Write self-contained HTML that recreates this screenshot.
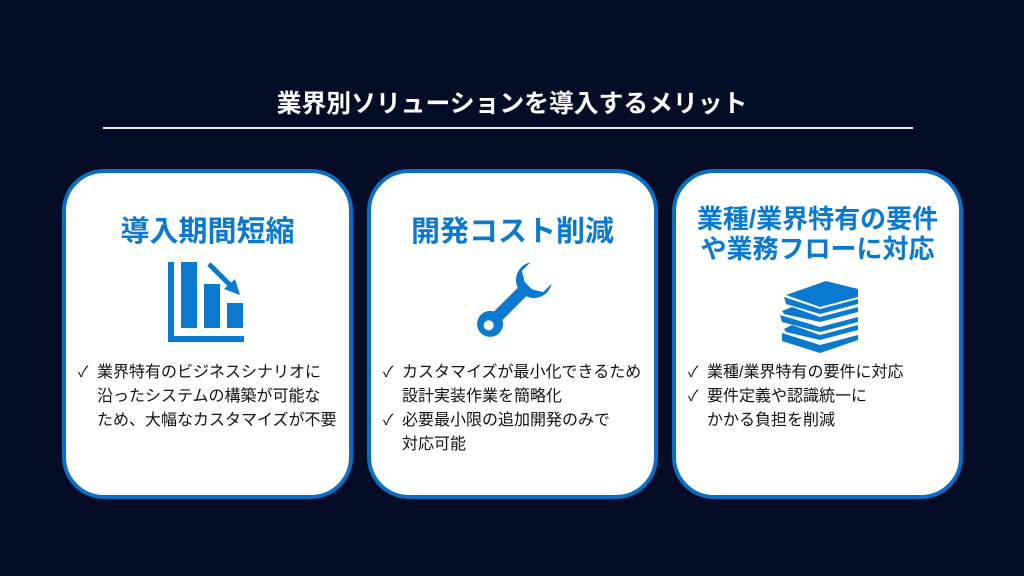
<!DOCTYPE html>
<html><head><meta charset="utf-8"><style>
*{margin:0;padding:0;box-sizing:border-box}
body{width:1024px;height:576px;background:#050d26;position:relative;overflow:hidden;font-family:"Liberation Sans","Noto Sans CJK JP",sans-serif}
.t{position:absolute;top:84px;left:0;width:1024px;text-align:center;color:#fff;font-weight:bold;font-size:24.8px}
.line{position:absolute;top:127px;left:103px;width:810px;height:2px;background:#e8e8e8}
.card{position:absolute;top:169px;width:291px;height:330px;background:#fff;border:4px solid #0a6fc4;border-radius:42px}
.h{position:absolute;left:0;width:100%;text-align:center;color:#0a7ad0;font-weight:bold;font-size:29px;line-height:30px}
.b{position:absolute;left:12px;font-size:16px;line-height:24px;color:#111}
.b div{padding-left:19px;position:relative;white-space:nowrap}
.b div.c::before{content:"✓";position:absolute;left:0;top:0;font-size:15px}
svg{position:absolute}
</style></head><body>
<div class="t">業界別ソリューションを導入するメリット</div>
<div class="line"></div>

<div class="card" style="left:62px">
 <div class="h" style="top:44px">導入期間短縮</div>
 <svg style="left:102px;top:89px" width="80" height="82" viewBox="0 0 80 82">
  <rect x="0" y="0" width="6" height="80" fill="#0a7ad0"/><rect x="0" y="74" width="76" height="6" fill="#0a7ad0"/>
  <rect x="13" y="0" width="16" height="66" fill="#0a7ad0"/><rect x="36" y="22" width="16" height="44" fill="#0a7ad0"/><rect x="59" y="41" width="16" height="25" fill="#0a7ad0"/>
  <path d="M41 2 L65 26" stroke="#0a7ad0" stroke-width="5"/><path d="M56 27 L72 33 L67 17 Z" fill="#0a7ad0"/>
 </svg>
 <div class="b" style="top:188px">
  <div class="c">業界特有のビジネスシナリオに</div><div>沿ったシステムの構築が可能な</div><div>ため、大幅なカスタマイズが不要</div>
 </div>
</div>

<div class="card" style="left:367px">
 <div class="h" style="top:44px">開発コスト削減</div>
 <svg style="left:96px;top:84px" width="90" height="90" viewBox="0 0 90 90">
  <g transform="rotate(45 45 45)">
   <rect x="39" y="22" width="12" height="48" fill="#0a7ad0"/>
   <path d="M30 4 A18 18 0 1 0 60 4 L60 16 L50 22 L40 22 L30 16 Z" fill="#0a7ad0"/>
   <circle cx="45" cy="76" r="13" fill="#0a7ad0"/><circle cx="45" cy="78" r="5" fill="#fff"/>
  </g>
 </svg>
 <div class="b" style="top:188px">
  <div class="c">カスタマイズが最小化できるため</div><div>設計実装作業を簡略化</div><div class="c">必要最小限の追加開発のみで</div><div>対応可能</div>
 </div>
</div>

<div class="card" style="left:672px">
 <div class="h" style="top:31px;font-size:26px">業種/業界特有の要件<br>や業務フローに対応</div>
 <svg style="left:102px;top:104px" width="84" height="80" viewBox="0 0 84 80">
  <g fill="#0a7ad0">
   <path d="M8 18 L48 4 L80 12 L80 20 L42 30 Z"/>
   <path d="M6 20 L42 32 L80 22 L80 27 L42 37 L8 27 Z"/>
   <path d="M4 34 L14 30 L42 40 L80 30 L80 35 L42 45 L6 37 Z"/>
   <path d="M2 38 L42 50 L80 40 L80 45 L42 55 L4 45 Z"/>
   <path d="M6 52 L14 48 L42 58 L80 48 L80 53 L42 63 L8 55 Z"/>
   <path d="M4 56 L42 68 L80 58 L80 63 L42 76 L4 64 Z"/>
  </g>
 </svg>
 <div class="b" style="top:188px">
  <div class="c">業種/業界特有の要件に対応</div><div class="c">要件定義や認識統一に</div><div>かかる負担を削減</div>
 </div>
</div>
</body></html>
